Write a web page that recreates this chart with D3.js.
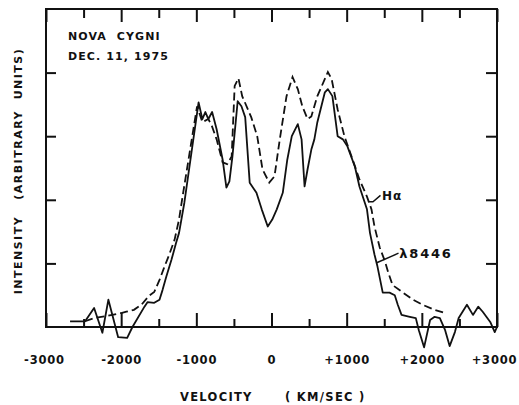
<!DOCTYPE html>
<html>
<head>
<meta charset="utf-8">
<script src="https://cdn.jsdelivr.net/npm/d3@7/dist/d3.min.js"></script>
<style>
  html, body { margin: 0; padding: 0; background: #fff; }
  svg { display: block; }
  text { font-family: "DejaVu Sans", sans-serif; font-weight: bold; fill: #111; }
</style>
</head>
<body>
<svg id="chart" width="519" height="405"></svg>
<script>
// Nova Cygni 1975 line profiles: velocity (km/s), intensity (arbitrary units)
const lambda8446 = [
  [-2680, 0.09], [-2480, 0.09], [-2360, 0.30], [-2250, -0.09], [-2170, 0.43],
  [-2040, -0.16], [-1920, -0.17], [-1850, 0.00], [-1690, 0.32], [-1650, 0.39],
  [-1560, 0.38], [-1490, 0.43], [-1450, 0.58], [-1400, 0.79], [-1330, 1.06],
  [-1270, 1.32], [-1230, 1.48], [-1160, 1.95], [-970, 3.53], [-920, 3.27],
  [-880, 3.38], [-840, 3.27], [-790, 3.38], [-730, 3.11], [-650, 2.63],
  [-600, 2.19], [-560, 2.29], [-520, 2.68], [-450, 3.55], [-400, 3.47],
  [-350, 3.30], [-290, 2.27], [-200, 2.11], [-130, 1.85], [-50, 1.58],
  [10, 1.69], [70, 1.85], [150, 2.11], [210, 2.63], [270, 3.00],
  [350, 3.19], [400, 2.95], [440, 2.21], [480, 2.48], [530, 2.79],
  [570, 2.95], [610, 3.22], [710, 3.69], [750, 3.74], [810, 3.63],
  [880, 3.00], [950, 2.95], [1010, 2.84], [1110, 2.52], [1170, 2.21],
  [1270, 1.85], [1310, 1.48], [1370, 1.14], [1410, 0.95], [1480, 0.54],
  [1570, 0.54], [1640, 0.50], [1680, 0.35], [1730, 0.19], [1840, 0.16],
  [1920, 0.14], [1960, -0.05], [2030, -0.32], [2110, 0.11], [2170, 0.16],
  [2240, 0.14], [2310, -0.05], [2370, -0.30], [2440, -0.08], [2490, 0.14],
  [2600, 0.35], [2680, 0.19], [2750, 0.32], [2810, 0.24], [2910, 0.08],
  [2970, -0.08], [3000, 0.00]
];

const hAlpha = [
  [-2480, 0.09], [-2360, 0.14], [-2200, 0.17], [-2000, 0.22], [-1930, 0.24],
  [-1830, 0.27], [-1730, 0.35], [-1630, 0.49], [-1560, 0.55], [-1490, 0.74],
  [-1430, 0.93], [-1360, 1.14], [-1290, 1.37], [-1230, 1.69], [-1190, 2.00],
  [-990, 3.47], [-920, 3.22], [-840, 3.27], [-790, 3.15], [-730, 2.95],
  [-650, 2.59], [-590, 2.56], [-530, 2.68], [-490, 3.79], [-440, 3.91],
  [-390, 3.63], [-270, 3.30], [-190, 3.00], [-120, 2.48], [-30, 2.27],
  [40, 2.37], [110, 2.95], [200, 3.63], [280, 3.93], [350, 3.74],
  [410, 3.47], [480, 3.27], [530, 3.31], [610, 3.63], [710, 3.90],
  [750, 4.01], [800, 3.90], [880, 3.42], [970, 3.00], [1080, 2.63],
  [1170, 2.32], [1270, 2.05], [1330, 1.85], [1370, 1.58], [1440, 1.25],
  [1510, 1.03], [1550, 0.87], [1610, 0.66], [1750, 0.54], [1880, 0.43],
  [2010, 0.35], [2170, 0.27], [2310, 0.22]
];

const xMajorTicks = [-3000, -2000, -1000, 0, 1000, 2000, 3000];
const xMinorTicks = [-2500, -1500, -500, 500, 1500, 2500];
const xTickLabels = ["-3000", "-2000", "-1000", "0", "+1000", "+2000", "+3000"];
const yTicks = [1, 2, 3, 4];

const svg = d3.select("#chart");
const ink = "#111";

const x = d3.scaleLinear().domain([-3000, 3000]).range([46, 497]);
const y = d3.scaleLinear().domain([0, 5]).range([327, 9]);

// frame
svg.append("rect")
  .attr("x", x.range()[0]).attr("y", y.range()[1])
  .attr("width", x.range()[1] - x.range()[0])
  .attr("height", y.range()[0] - y.range()[1])
  .attr("fill", "none").attr("stroke", ink).attr("stroke-width", 2);

// bottom axis: inward ticks, labels below
const bottomMajor = svg.append("g").attr("transform", `translate(0,${y(0)})`)
  .call(d3.axisBottom(x).tickValues(xMajorTicks).tickSizeInner(-14).tickSizeOuter(0)
    .tickPadding(29).tickFormat((d, i) => xTickLabels[i]));
const bottomMinor = svg.append("g").attr("transform", `translate(0,${y(0)})`)
  .call(d3.axisBottom(x).tickValues(xMinorTicks).tickSizeInner(-8).tickSizeOuter(0).tickFormat(""));

// top axis: inward ticks
const topMajor = svg.append("g").attr("transform", `translate(0,${y(5)})`)
  .call(d3.axisTop(x).tickValues(xMajorTicks).tickSizeInner(-13).tickSizeOuter(0).tickFormat(""));
const topMinor = svg.append("g").attr("transform", `translate(0,${y(5)})`)
  .call(d3.axisTop(x).tickValues(xMinorTicks).tickSizeInner(-9).tickSizeOuter(0).tickFormat(""));

// left and right axes: inward ticks
const leftAx = svg.append("g").attr("transform", `translate(${x(-3000)},0)`)
  .call(d3.axisLeft(y).tickValues(yTicks).tickSizeInner(-10).tickSizeOuter(0).tickFormat(""));
const rightAx = svg.append("g").attr("transform", `translate(${x(3000)},0)`)
  .call(d3.axisRight(y).tickValues(yTicks).tickSizeInner(-11).tickSizeOuter(0).tickFormat(""));

[bottomMajor, bottomMinor, topMajor, topMinor, leftAx, rightAx].forEach(g => {
  g.select(".domain").remove();
  g.selectAll("line").attr("stroke", ink).attr("stroke-width", 2);
});
bottomMajor.selectAll("text")
  .attr("font-family", "DejaVu Sans").attr("font-weight", "bold")
  .attr("font-size", 11.5).attr("letter-spacing", 0.8).attr("fill", ink)
  .attr("dx", (d, i) => i === xTickLabels.length - 1 ? -3 : (i === 0 ? -2 : 0));

// profiles
const line = d3.line().x(d => x(d[0])).y(d => y(d[1]));

svg.append("path").datum(lambda8446)
  .attr("d", line).attr("fill", "none").attr("stroke", ink)
  .attr("stroke-width", 1.8).attr("stroke-linejoin", "round");

svg.append("path").datum(hAlpha)
  .attr("d", line).attr("fill", "none").attr("stroke", ink)
  .attr("stroke-width", 1.8).attr("stroke-dasharray", "8,4");

// curve labels with leader lines
svg.append("polyline")
  .attr("points", [[x(1290), y(1.97)], [x(1350), y(1.97)], [x(1450), y(2.07)]].join(" "))
  .attr("fill", "none").attr("stroke", ink).attr("stroke-width", 1.4);
svg.append("text").attr("x", x(1470)).attr("y", y(2.0))
  .attr("font-size", 12).attr("letter-spacing", 1).text("Hα");

svg.append("polyline")
  .attr("points", [[x(1400), y(1.01)], [x(1690), y(1.16)]].join(" "))
  .attr("fill", "none").attr("stroke", ink).attr("stroke-width", 1.4);
svg.append("text").attr("x", x(1700)).attr("y", y(1.08))
  .attr("font-size", 13).attr("letter-spacing", 1.8).text("λ8446");

// title block
svg.append("text").attr("x", 68).attr("y", 40)
  .attr("font-size", 11).attr("letter-spacing", 1.1).attr("xml:space", "preserve")
  .text("NOVA  CYGNI");
svg.append("text").attr("x", 68).attr("y", 60)
  .attr("font-size", 11).attr("letter-spacing", 1.1)
  .text("DEC. 11, 1975");

// axis titles
svg.append("text").attr("transform", "translate(22,171) rotate(-90)")
  .attr("text-anchor", "middle").attr("font-size", 11).attr("letter-spacing", 1.5)
  .attr("xml:space", "preserve")
  .text("INTENSITY   (ARBITRARY  UNITS)");

svg.append("text").attr("x", 180).attr("y", 401)
  .attr("font-size", 11.5).attr("letter-spacing", 1.3)
  .text("VELOCITY");
svg.append("text").attr("x", 285).attr("y", 401)
  .attr("font-size", 11.5).attr("letter-spacing", 1.3).attr("xml:space", "preserve")
  .text("( KM/SEC )");
</script>
</body>
</html>
